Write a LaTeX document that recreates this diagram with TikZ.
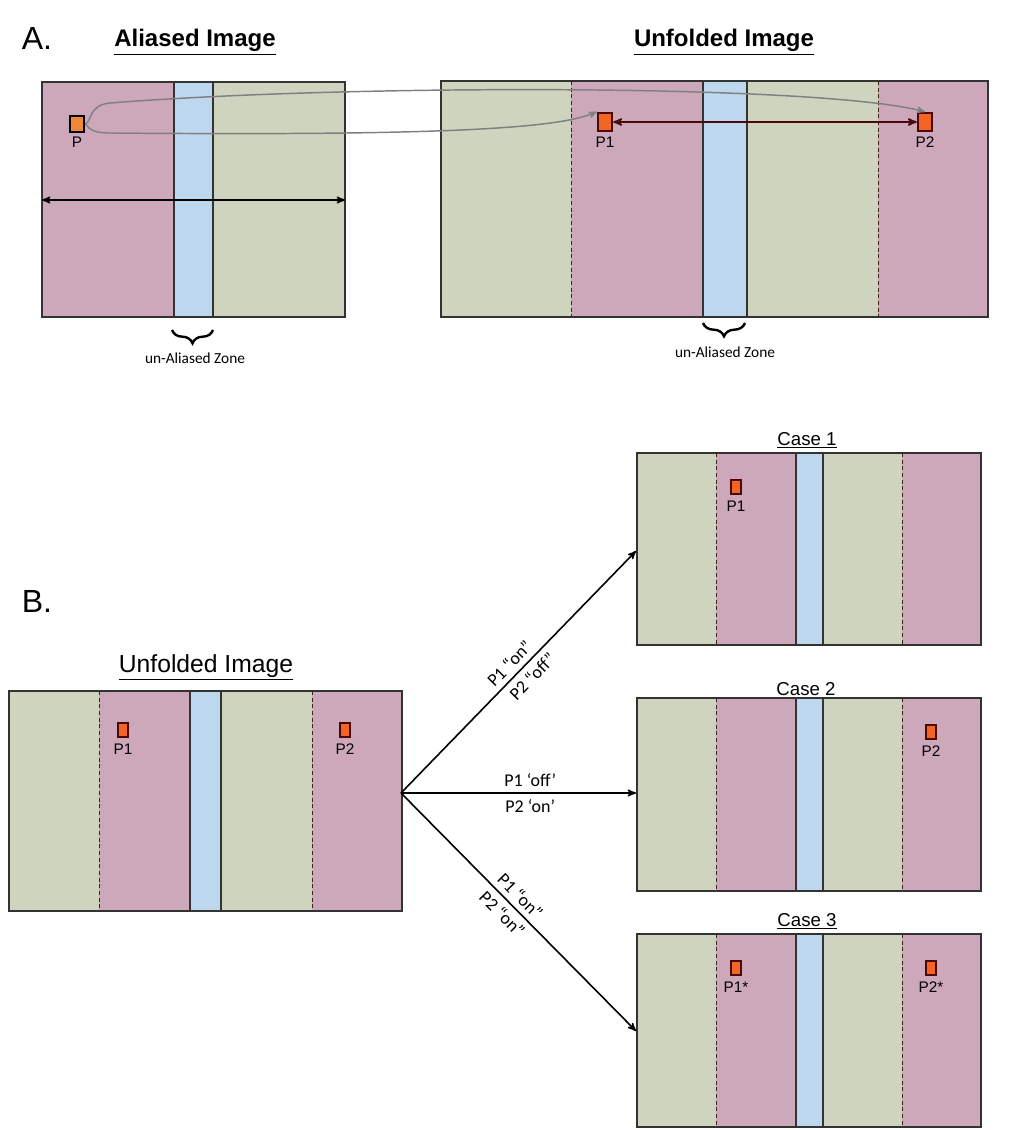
\documentclass[tikz,border=0pt]{standalone}
\usepackage{fontspec}
\setmainfont{Liberation Sans}
\newfontfamily\calfont{Carlito}
\usetikzlibrary{arrows,positioning,decorations.pathreplacing}

\definecolor{pinkzone}{HTML}{CCA8BA}
\definecolor{bluezone}{HTML}{BDD7EE}
\definecolor{greenzone}{HTML}{CED4BD}
\definecolor{porange}{HTML}{F0883A}
\definecolor{pred}{HTML}{F26522}
\definecolor{pborder}{HTML}{4A0808}

\tikzset{
  framecol/.style={draw=black!80,line width=0.9pt},
  seamcol/.style={draw=black!70!brown,line width=0.6pt,dash pattern=on 3pt off 2pt},
  bigmark/.style={draw=black,fill=porange,line width=1.4pt,minimum width=11pt,minimum height=12pt,inner sep=0pt},
  topmark/.style={draw=pborder,fill=pred,line width=1.3pt,minimum width=11pt,minimum height=14pt,inner sep=0pt},
  smallmark/.style={draw=pborder,fill=pred,line width=1.3pt,minimum width=7pt,minimum height=11pt,inner sep=0pt},
  plabel/.style={font=\fontsize{11.5}{13}\selectfont,inner sep=1pt},
  heading/.style={font=\fontsize{18}{21}\selectfont\bfseries},
  casetitle/.style={font=\fontsize{14}{16}\selectfont},
  zonelabel/.style={font=\calfont\fontsize{11.5}{13}\selectfont},
  zonebrace/.style={decorate,decoration={brace,mirror,amplitude=10pt},line width=1.8pt},
  armlabel/.style={font=\calfont\fontsize{13.5}{15}\selectfont,sloped,inner sep=4pt},
  link/.style={->,draw=gray,line width=1.1pt,>=stealth'},
  arm/.style={->,line width=1.2pt,>=stealth'}
}

% five strips: green | pink | blue | green | pink
\newcommand{\foldimg}[8]{%
  \fill[greenzone] (#1,#7) rectangle (#2,#8);
  \fill[pinkzone] (#2,#7) rectangle (#3,#8);
  \fill[bluezone] (#3,#7) rectangle (#4,#8);
  \fill[greenzone] (#4,#7) rectangle (#5,#8);
  \fill[pinkzone] (#5,#7) rectangle (#6,#8);
  \draw[framecol] (#1,#7) rectangle (#6,#8);
  \draw[framecol] (#3,#7) -- (#3,#8) (#4,#7) -- (#4,#8);
  \draw[framecol] (#2,#7) -- (#5,#7) (#2,#8) -- (#5,#8);
  \draw[seamcol] (#2,#7) -- (#2,#8) (#5,#7) -- (#5,#8);
}

\begin{document}
\begin{tikzpicture}[x=0.75pt,y=-0.75pt]
	\useasboundingbox (0,0) rectangle (1008,1130);
	
	% ---- part A ----
	\node[font=\fontsize{24}{26}\selectfont] (labA) at (37,38) {A.};
	\node[heading] (hal) at (195,42) {\underline{Aliased Image}};
	\node[heading] (hunf) at (724,42) {\underline{Unfolded Image}};
	
	% aliased image
	\fill[pinkzone] (42,82) rectangle (174,317);
	\fill[bluezone] (174,82) rectangle (213,317);
	\fill[greenzone] (213,82) rectangle (345,317);
	\draw[framecol] (42,82) rectangle (345,317);
	\draw[framecol] (174,82) -- (174,317) (213,82) -- (213,317);
	\coordinate (al) at (42,200);
	\coordinate (ar) at (345,200);
	\draw[<->,>=stealth',line width=1.2pt] (al) -- (ar);
	
	% unfolded image
	\foldimg{441}{571}{703}{747}{878}{988}{81}{317}
	
	\node[bigmark] (p) at (77,124) {};
	\node[plabel,below=2pt of p] (lp) {P};
	\node[topmark] (p1) at (605,122) {};
	\node[plabel,below=2pt of p1] (lp1) {P1};
	\node[topmark] (p2) at (925,122) {};
	\node[plabel,below=2pt of p2] (lp2) {P2};
	
	\draw[<->,>=stealth',draw=pborder,line width=1.3pt] (p1) -- (p2);
	\draw[link] (p.east) .. controls (92,122) and (88,105) .. (110,103)
		.. controls (350,84) and (820,84) .. (p2.north);
	\draw[link] (p.east) .. controls (90,130) and (95,133) .. (110,133)
		.. controls (450,136) and (560,128) .. (p1.north west);
	
	\draw[zonebrace] (172,330) -- (213,330);
	\node[zonelabel] (z1) at (195,358) {un-Aliased Zone};
	\draw[zonebrace] (703,323) -- (745,323);
	\node[zonelabel] (z2) at (725,352) {un-Aliased Zone};
	
	% ---- part B ----
	\node[font=\fontsize{24}{26}\selectfont] (labB) at (37,601) {B.};
	\node[font=\fontsize{18.5}{21}\selectfont] (hb) at (206,667) {\underline{Unfolded Image}};
	\foldimg{9}{99}{190}{221}{312}{402}{691}{911}
	\node[smallmark] (b1) at (123,730) {};
	\node[plabel,below=3pt of b1] {P1};
	\node[smallmark] (b2) at (345,730) {};
	\node[plabel,below=3pt of b2] {P2};
	
	% three cases
	\node[casetitle] (t1) at (807,440) {\underline{Case 1}};
	\foldimg{637}{716}{796}{823}{902}{981}{453}{645}
	\node[smallmark] (c1p1) at (736,487) {};
	\node[plabel,below=3pt of c1p1] {P1};
	
	\node[casetitle] (t2) at (806,689) {Case 2};
	\foldimg{637}{716}{796}{823}{902}{981}{698}{891}
	\node[smallmark] (c2p2) at (931,732) {};
	\node[plabel,below=3pt of c2p2] {P2};
	
	\node[casetitle] (t3) at (807,921) {\underline{Case 3}};
	\foldimg{637}{716}{796}{823}{902}{981}{934}{1127}
	\node[smallmark] (c3p1) at (736,968) {};
	\node[plabel,below=3pt of c3p1] {P1*};
	\node[smallmark] (c3p2) at (931,968) {};
	\node[plabel,below=3pt of c3p2] {P2*};
	
	\coordinate (src) at (401,793);
	\coordinate (in1) at (636,551);
	\coordinate (in2) at (636,793);
	\coordinate (in3) at (636,1031);
	\draw[arm] (src) -- node[armlabel,above,pos=0.5] {P1 “on”} node[armlabel,below,pos=0.52] {P2 “off”} (in1);
	\draw[arm] (src) -- node[armlabel,above,pos=0.55] {P1 ‘off’} node[armlabel,below,pos=0.55] {P2 ‘on’} (in2);
	\draw[arm] (src) -- node[armlabel,above,pos=0.47] {P1 “on”} node[armlabel,below,pos=0.47] {P2 “on”} (in3);
\end{tikzpicture}
\end{document}
